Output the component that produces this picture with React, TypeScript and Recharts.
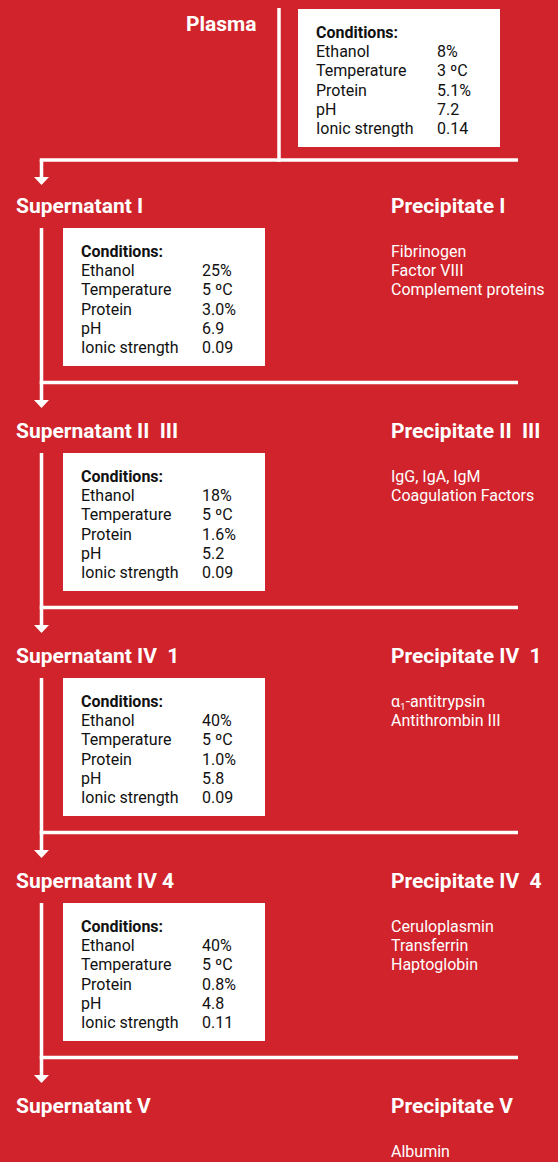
import { ScatterChart, Scatter, XAxis, YAxis, ReferenceLine, ReferenceArea } from "recharts";

// Fractionation steps
const feed = "Plasma";
const supernatants = ["Supernatant I", "Supernatant II  III", "Supernatant IV  1", "Supernatant IV 4", "Supernatant V"];
const precipitates = ["Precipitate I", "Precipitate II  III", "Precipitate IV  1", "Precipitate IV  4", "Precipitate V"];
const precipitateProteins = [
  ["Fibrinogen", "Factor VIII", "Complement proteins"],
  ["IgG, IgA, IgM", "Coagulation Factors"],
  ["α₁-antitrypsin", "Antithrombin III"],
  ["Ceruloplasmin", "Transferrin", "Haptoglobin"],
  ["Albumin"],
];

// Conditions for each step (plasma, sup I, sup II III, sup IV 1, sup IV 4)
const conditionNames = ["Ethanol", "Temperature", "Protein", "pH", "Ionic strength"];
const ethanol = ["8%", "25%", "18%", "40%", "40%"];
const temperature = ["3 ºC", "5 ºC", "5 ºC", "5 ºC", "5 ºC"];
const protein = ["5.1%", "3.0%", "1.6%", "1.0%", "0.8%"];
const pH = ["7.2", "6.9", "5.2", "5.8", "4.8"];
const ionicStrength = ["0.14", "0.09", "0.09", "0.09", "0.11"];

const W = 558;
const H = 1162;
const RED = "#d0232b";
const FONT = "Roboto, sans-serif";
const PITCH = 225;
const LINE = 3.5;
const STEM_X = 41.5;
const RIGHT_X = 518;
const BOX_W = 202;
const BOX_H = 138;

const titleY = (i: number) => 213 + PITCH * i;
const boxPos = (k: number) => (k === 0 ? { x: 298, y: 9 } : { x: 63, y: 228 + PITCH * (k - 1) });
const splitY = (i: number) => (i === 0 ? 160 : 382.5 + PITCH * (i - 1));
const arrowTip = (i: number) => (i === 0 ? 185 : 408 + PITCH * (i - 1));

const valueCols = [ethanol, temperature, protein, pH, ionicStrength];

const titles = [
  { x: 186, y: 31, text: feed },
  ...supernatants.map((t, i) => ({ x: 16, y: titleY(i), text: t })),
  ...precipitates.map((t, i) => ({ x: 391, y: titleY(i), text: t })),
];

const items = precipitateProteins.flatMap((list, i) =>
  list.map((t, j) => ({ x: 391, y: titleY(i) + 44 + 19.2 * j, text: t }))
);

const condHeads = ethanol.map((_, k) => ({ x: boxPos(k).x + 18, y: boxPos(k).y + 29, text: "Conditions:" }));
const condRows = ethanol.flatMap((_, k) =>
  conditionNames.flatMap((name, r) => [
    { x: boxPos(k).x + 18, y: boxPos(k).y + 29 + 19.2 * (r + 1), text: name },
    { x: boxPos(k).x + 139, y: boxPos(k).y + 29 + 19.2 * (r + 1), text: valueCols[r][k] },
  ])
);

const arrows = supernatants.map((_, i) => ({ x: STEM_X, y: arrowTip(i) }));

function label(fill: string, size: number, weight: number) {
  return (props: any) => {
    const { cx, cy, payload } = props;
    const text: string = payload.text;
    const parts = text.split("₁");
    return (
      <text x={cx} y={cy} fill={fill} fontSize={size} fontWeight={weight} fontFamily={FONT} style={{ whiteSpace: "pre" }}>
        {parts.length > 1 ? (
          <>
            <tspan>{parts[0]}</tspan>
            <tspan fontSize={size * 0.62} dy={3}>1</tspan>
            <tspan dy={-3}>{parts[1]}</tspan>
          </>
        ) : (
          text
        )}
      </text>
    );
  };
}

const arrowHead = (props: any) => {
  const { cx, cy } = props;
  return <polygon points={`${cx - 7.5},${cy - 8} ${cx + 7.5},${cy - 8} ${cx},${cy}`} fill="#fff" />;
};

export default function App() {
  return (
    <div style={{ position: "absolute", top: 0, left: 0, width: W, height: H, background: RED }}>
      <ScatterChart width={W} height={H} margin={{ top: 0, right: 0, bottom: 0, left: 0 }}>
        <XAxis type="number" dataKey="x" domain={[0, W]} hide />
        <YAxis type="number" dataKey="y" domain={[0, H]} reversed hide />

        {ethanol.map((_, k) => (
          <ReferenceArea
            key={`box${k}`}
            x1={boxPos(k).x}
            x2={boxPos(k).x + BOX_W}
            y1={boxPos(k).y}
            y2={boxPos(k).y + BOX_H}
            fill="#fff"
            fillOpacity={1}
            stroke="none"
          />
        ))}

        {/* plasma feed line */}
        <ReferenceLine segment={[{ x: 279, y: 8 }, { x: 279, y: splitY(0) + LINE / 2 }]} stroke="#fff" strokeWidth={LINE} />

        {supernatants.map((_, i) => (
          <ReferenceLine
            key={`split${i}`}
            segment={[{ x: STEM_X - LINE / 2, y: splitY(i) }, { x: RIGHT_X, y: splitY(i) }]}
            stroke="#fff"
            strokeWidth={LINE}
          />
        ))}
        {supernatants.map((_, i) => (
          <ReferenceLine
            key={`stem${i}`}
            segment={[
              { x: STEM_X, y: i === 0 ? splitY(0) : boxPos(i).y },
              { x: STEM_X, y: arrowTip(i) - 7 },
            ]}
            stroke="#fff"
            strokeWidth={LINE}
          />
        ))}

        <Scatter data={arrows} shape={arrowHead} isAnimationActive={false} />
        <Scatter data={titles} shape={label("#fff", 21, 700)} isAnimationActive={false} />
        <Scatter data={items} shape={label("#fff", 16, 400)} isAnimationActive={false} />
        <Scatter data={condHeads} shape={label("#111", 16, 700)} isAnimationActive={false} />
        <Scatter data={condRows} shape={label("#111", 16, 400)} isAnimationActive={false} />
      </ScatterChart>
    </div>
  );
}
